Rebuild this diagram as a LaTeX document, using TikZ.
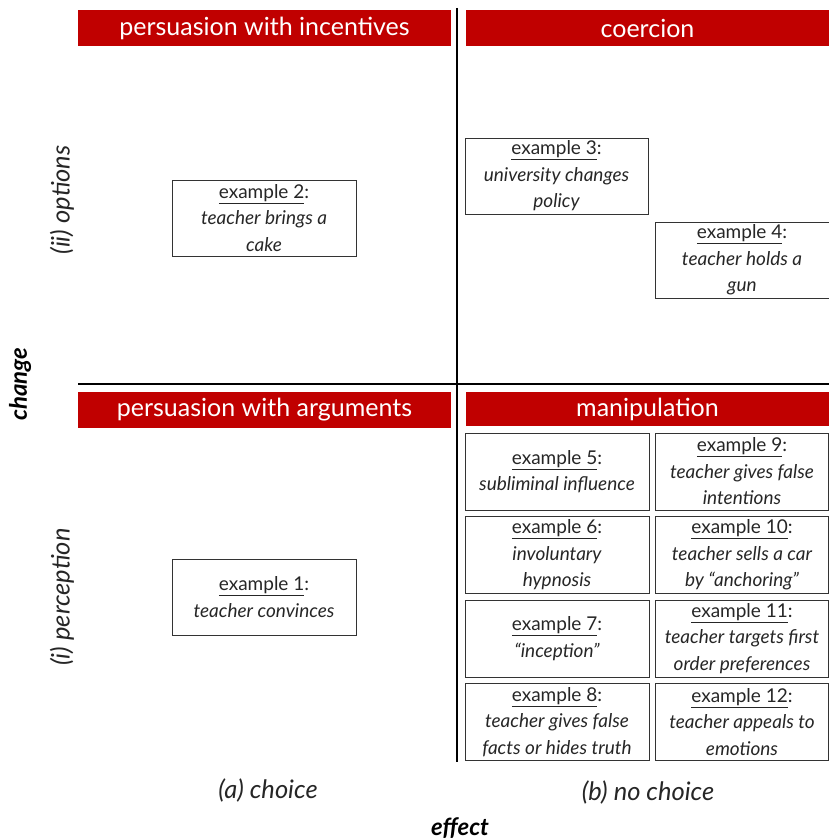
\documentclass[tikz,border=0pt]{standalone}
\usepackage{fontspec}
\setmainfont{Lato}
\definecolor{hdrred}{HTML}{C00000}
\newcommand{\exhead}[1]{{\upshape\underline{example #1}:}}
\begin{document}
\begin{tikzpicture}[x=1pt,y=-1pt,
    hdr/.style={fill=hdrred,text=white,inner sep=0pt,minimum height=36,font=\fontsize{25}{28}\selectfont},
    exbox/.style={draw=black!80,thin,align=center,inner sep=0pt,minimum height=76,text=black!85,font=\fontsize{19}{26.5}\selectfont\itshape},
    axlab/.style={text=black!85,font=\fontsize{25.5}{28}\selectfont\itshape},
    axname/.style={font=\fontsize{24}{28}\selectfont\bfseries\itshape}]
    \useasboundingbox (0,0) rectangle (829,840);
    % quadrant lines
    \draw[line width=2pt] (457,8) -- (457,762);
    \draw[line width=2pt] (78,384) -- (829,384);
    % headers
    \node[hdr,minimum width=373] (hdrPI) at (264.5,28.5) {persuasion with incentives};
    \node[hdr,minimum width=363] (hdrCo) at (647.5,28.5) {coercion};
    \node[hdr,minimum width=373] (hdrPA) at (264.5,410) {persuasion with arguments};
    \node[hdr,minimum width=363,minimum height=34] (hdrMa) at (647.5,409) {manipulation};
    % examples
    \node[exbox,minimum width=184] (ex2) at (264,218) {\exhead{2}\\teacher brings a\\cake};
    \node[exbox,minimum width=183] (ex3) at (556.5,176) {\exhead{3}\\university changes\\policy};
    \node[exbox,minimum width=174] (ex4) at (742,260) {\exhead{4}\\teacher holds a\\gun};
    \node[exbox,minimum width=184] (ex1) at (264,597) {\exhead{1}\\teacher convinces};
    \foreach \num/\yy/\txt in {5/471.5/{subliminal influence},
                          6/555/{involuntary\\hypnosis},
                          7/638.5/{``inception''},
                          8/722/{teacher gives false\\facts or hides truth}}
        \node[exbox,minimum width=184,minimum height=77] (ex\num) at (557,\yy) {\exhead{\num}\\\txt};
    \foreach \num/\yy/\txt in {9/471.5/{teacher gives false\\intentions},
                          10/555/{teacher sells a car\\by ``anchoring''},
                          11/638.5/{teacher targets first\\order preferences},
                          12/722/{teacher appeals to\\emotions}}
        \node[exbox,minimum width=173,minimum height=77] (ex\num) at (742,\yy) {\exhead{\num}\\\txt};
    % axis labels
    \node[axlab,rotate=90] (opt) at (62,200) {(ii) options};
    \node[axlab,rotate=90] (perc) at (62,597) {(i) perception};
    \node[axname,rotate=90] (chg) at (20,384) {change};
    \node[axlab] (cho) at (268,790) {(a) choice};
    \node[axlab] (nocho) at (648,792) {(b) no choice};
    \node[axname] (eff) at (460,828) {effect};
\end{tikzpicture}
\end{document}
